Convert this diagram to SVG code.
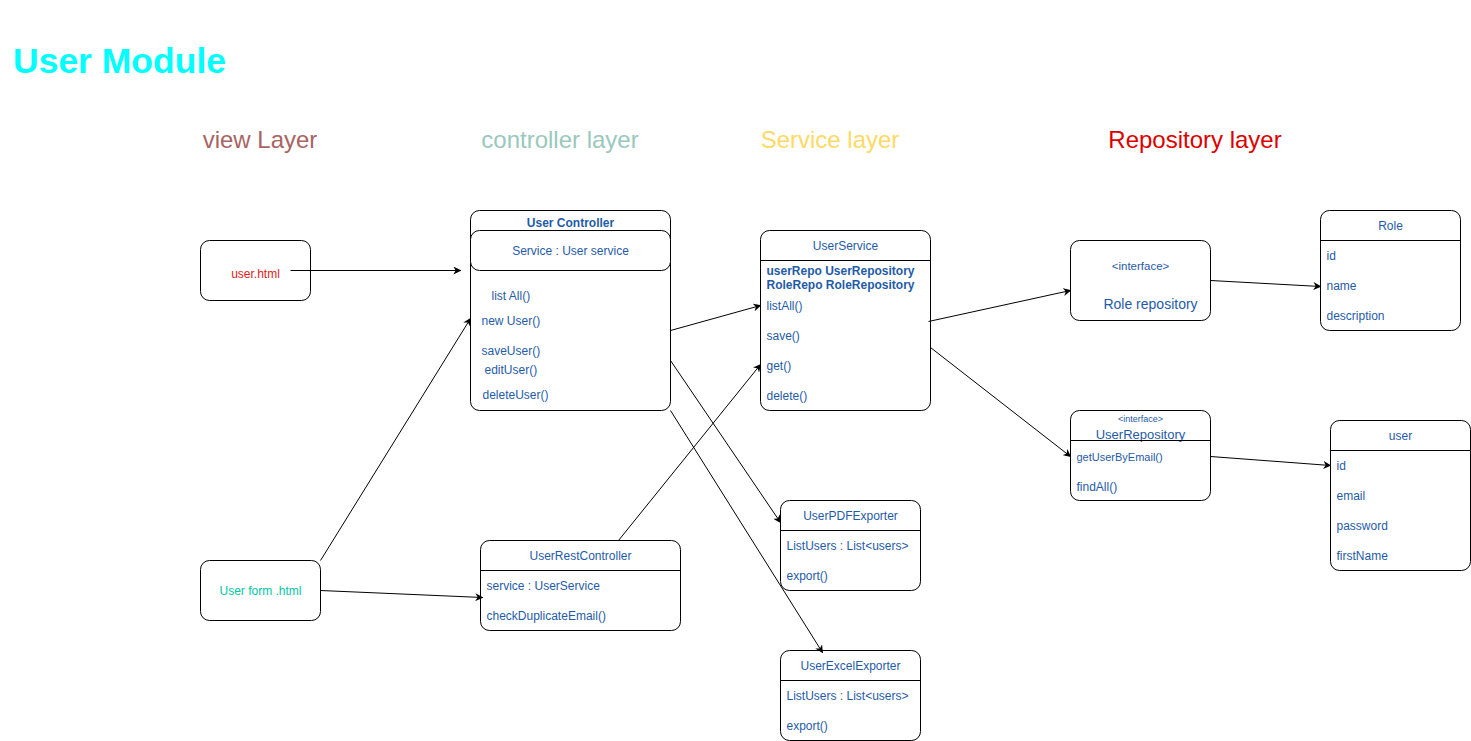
<svg xmlns="http://www.w3.org/2000/svg" width="1471" height="741" viewBox="0 0 1471 741">
<defs>
<marker id="arr" viewBox="0 0 10 10" refX="9" refY="5" markerWidth="8" markerHeight="8" orient="auto" markerUnits="userSpaceOnUse">
<path d="M0,0 L10,5 L0,10 L3,5 Z" fill="#000"/>
</marker>
</defs>
<style>
text{font-family:"Liberation Sans",Arial,sans-serif;font-size:12px;fill:#1F5BA8}
.box{fill:#fff;stroke:#000;stroke-width:1}
.sep{stroke:#000;stroke-width:1}
.c{text-anchor:middle}
.layer{font-size:24px;text-anchor:middle}
.conn line{stroke:#000;stroke-width:1;marker-end:url(#arr)}
</style>
<rect width="1471" height="741" fill="#fff"/>
<text x="13" y="73" style="font-size:35.5px;font-weight:bold;fill:#00FFFF">User Module</text>
<text class="layer" x="260" y="148" style="fill:#A86464">view Layer</text>
<text class="layer" x="560" y="148" style="fill:#9AC8BE">controller layer</text>
<text class="layer" x="830" y="148" style="fill:#FFD966">Service layer</text>
<text class="layer" x="1195" y="148" style="fill:#DD0000">Repository layer</text>

<g transform="translate(0.5,0.5)">
<g id="user-html">
<rect class="box" x="200" y="240" width="110" height="60" rx="9"/>
<text class="c" x="255" y="277" style="fill:#E02020">user.html</text>
</g>
<g id="user-form-html">
<rect class="box" x="200" y="560" width="120" height="60" rx="9"/>
<text class="c" x="260" y="594" style="fill:#00C8A8">User form .html</text>
</g>
<g id="user-controller">
<rect class="box" x="470" y="210" width="200" height="200" rx="9"/>
<text class="c" x="570" y="226" style="font-weight:bold">User Controller</text>
<rect class="box" x="470" y="230" width="200" height="40" rx="9"/>
<text class="c" x="570" y="254">Service : User service</text>
<text x="491" y="299">list All()</text>
<text x="481" y="324">new User()</text>
<text x="481" y="354">saveUser()</text>
<text x="484" y="373">editUser()</text>
<text x="482" y="398">deleteUser()</text>
</g>
<g id="user-service">
<rect class="box" x="760" y="230" width="170" height="180" rx="9"/>
<text class="c" x="845" y="249">UserService</text>
<line class="sep" x1="760" y1="260" x2="930" y2="260"/>
<text x="766" y="274" style="font-weight:bold">userRepo UserRepository</text>
<text x="766" y="288" style="font-weight:bold">RoleRepo RoleRepository</text>
<text x="766" y="309">listAll()</text>
<text x="766" y="339">save()</text>
<text x="766" y="369">get()</text>
<text x="766" y="399">delete()</text>
</g>
<g id="role-repository">
<rect class="box" x="1070" y="240" width="140" height="80" rx="9"/>
<text class="c" x="1140" y="269" style="font-size:11.5px">&lt;interface&gt;</text>
<text class="c" x="1150" y="308" style="font-size:14px">Role repository</text>
</g>
<g id="user-repository">
<rect class="box" x="1070" y="410" width="140" height="90" rx="9"/>
<text class="c" x="1140" y="421" style="font-size:9px">&lt;interface&gt;</text>
<text class="c" x="1140" y="438" style="font-size:13px">UserRepository</text>
<line class="sep" x1="1070" y1="440" x2="1210" y2="440"/>
<text x="1076" y="460" style="font-size:11px">getUserByEmail()</text>
<text x="1076" y="490">findAll()</text>
</g>
<g id="role">
<rect class="box" x="1320" y="210" width="140" height="120" rx="9"/>
<text class="c" x="1390" y="229">Role</text>
<line class="sep" x1="1320" y1="240" x2="1460" y2="240"/>
<text x="1326" y="259">id</text>
<text x="1326" y="289">name</text>
<text x="1326" y="319">description</text>
</g>
<g id="user">
<rect class="box" x="1330" y="420" width="140" height="150" rx="9"/>
<text class="c" x="1400" y="439">user</text>
<line class="sep" x1="1330" y1="450" x2="1470" y2="450"/>
<text x="1336" y="469">id</text>
<text x="1336" y="499">email</text>
<text x="1336" y="529">password</text>
<text x="1336" y="559">firstName</text>
</g>
<g id="user-rest-controller">
<rect class="box" x="480" y="540" width="200" height="90" rx="9"/>
<text class="c" x="580" y="559">UserRestController</text>
<line class="sep" x1="480" y1="570" x2="680" y2="570"/>
<text x="486" y="589">service : UserService</text>
<text x="486" y="619">checkDuplicateEmail()</text>
</g>
<g id="user-pdf-exporter">
<rect class="box" x="780" y="500" width="140" height="90" rx="9"/>
<text class="c" x="850" y="519">UserPDFExporter</text>
<line class="sep" x1="780" y1="530" x2="920" y2="530"/>
<text x="786" y="549">ListUsers : List&lt;users&gt;</text>
<text x="786" y="579">export()</text>
</g>
<g id="user-excel-exporter">
<rect class="box" x="780" y="650" width="140" height="90" rx="9"/>
<text class="c" x="850" y="669">UserExcelExporter</text>
<line class="sep" x1="780" y1="680" x2="920" y2="680"/>
<text x="786" y="699">ListUsers : List&lt;users&gt;</text>
<text x="786" y="729">export()</text>
</g>

<g id="connectors" class="conn">
<line x1="290" y1="270" x2="460" y2="270"/>
<line x1="320" y1="560" x2="470" y2="318"/>
<line x1="320" y1="590" x2="482" y2="597"/>
<line x1="670" y1="330" x2="760" y2="305"/>
<line x1="670" y1="360" x2="780" y2="522"/>
<line x1="670" y1="410" x2="822" y2="652"/>
<line x1="618" y1="540" x2="760" y2="364"/>
<line x1="928" y1="321" x2="1070" y2="290"/>
<line x1="930" y1="347" x2="1070" y2="456"/>
<line x1="1210" y1="280" x2="1320" y2="286"/>
<line x1="1210" y1="456" x2="1330" y2="465"/>
</g>
</g>
</svg>
